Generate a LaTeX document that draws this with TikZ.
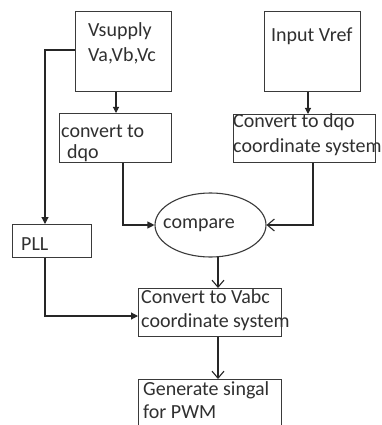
\documentclass[tikz,border=0pt]{standalone}
\usepackage{fontspec}
\setmainfont{Carlito}
\usetikzlibrary{arrows.meta,shapes.geometric}
\definecolor{boxgray}{HTML}{3A3A3A}
\definecolor{txtgray}{HTML}{303030}
\begin{document}
\begin{tikzpicture}[x=1pt,y=-1pt,
  blk/.style={draw=boxgray,line width=1.1pt,anchor=north west,inner sep=0pt},
  txt/.style={anchor=base west,inner sep=0pt,text=txtgray,font=\fontsize{20}{24}\selectfont},
  wire/.style={line width=1.1pt,draw=black!85},
  solidtip/.style={wire,-{Triangle[length=7pt,width=7pt]}},
  opentip/.style={wire,-{Straight Barb[length=7pt,width=12pt]}}]

  % canvas
  \clip (0,0) rectangle (382,425);
  \fill[white] (0,0) rectangle (382,425);

  % blocks
  \node[blk,minimum width=96pt,minimum height=80pt] (vs) at (75,11) {};
  \node[blk,minimum width=96pt,minimum height=80pt] (vref) at (264,11) {};
  \node[blk,minimum width=112pt,minimum height=49pt] (cdq) at (59,113) {};
  \node[blk,minimum width=142pt,minimum height=48pt] (cdq2) at (233,114) {};
  \node[blk,minimum width=79pt,minimum height=33pt] (pll) at (12,224) {};
  \node[draw=boxgray,line width=1.1pt,ellipse,minimum width=111pt,minimum height=64pt,inner sep=0pt] (cmp) at (210.5,225) {};
  \node[blk,minimum width=143pt,minimum height=48pt] (vabc) at (138,288) {};
  \node[blk,minimum width=143pt,minimum height=70pt] (gen) at (138,379) {};

  % labels
  \node[txt] (t1) at (88,37) {Vsupply};
  \node[txt] (t2) at (88,62) {Va,Vb,Vc};
  \node[txt] (t3) at (271,42) {Input Vref};
  \node[txt] (t4) at (61,137) {convert to};
  \node[txt] (t5) at (67,158) {dqo};
  \node[txt] (t6) at (233,128) {Convert to dqo};
  \node[txt] (t7) at (233,152) {coordinate system};
  \node[txt] (t8) at (21,250) {PLL};
  \node[txt] (t9) at (163,228) {compare};
  \node[txt] (t10) at (141,303) {Convert to Vabc};
  \node[txt] (t11) at (141,327) {coordinate system};
  \node[txt] (t12) at (143,395) {Generate singal};
  \node[txt] (t13) at (143,418) {for PWM};

  % reference x positions of vertical wires
  \coordinate (xs) at (116,0);
  \coordinate (xr) at (308,0);
  \coordinate (xl) at (45,0);
  \coordinate (xc) at (123,0);
  \coordinate (xq) at (313,0);
  \coordinate (xm) at (218,0);
  \coordinate (yp) at (0,316);
  \coordinate (yv) at (0,50);

  % connectors
  \draw[solidtip,-{Triangle[length=6pt,width=6pt]}] (vs.south -| xs) -- (cdq.north -| xs);
  \draw[solidtip,-{Triangle[length=6pt,width=6pt]}] (vref.south -| xr) -- (cdq2.north -| xr);
  \draw[solidtip] (vs.west |- yv) -| (pll.north -| xl);
  \draw[solidtip] (cdq.south -| xc) |- (cmp.west);
  \draw[opentip] (cdq2.south -| xq) |- (cmp.east);
  \draw[opentip] (cmp.south -| xm) ++(0,-0.3) -- (vabc.north -| xm);
  \draw[solidtip] (pll.south -| xl) |- (vabc.west |- yp);
  \draw[opentip] (vabc.south -| xm) -- (gen.north -| xm);
\end{tikzpicture}
\end{document}
